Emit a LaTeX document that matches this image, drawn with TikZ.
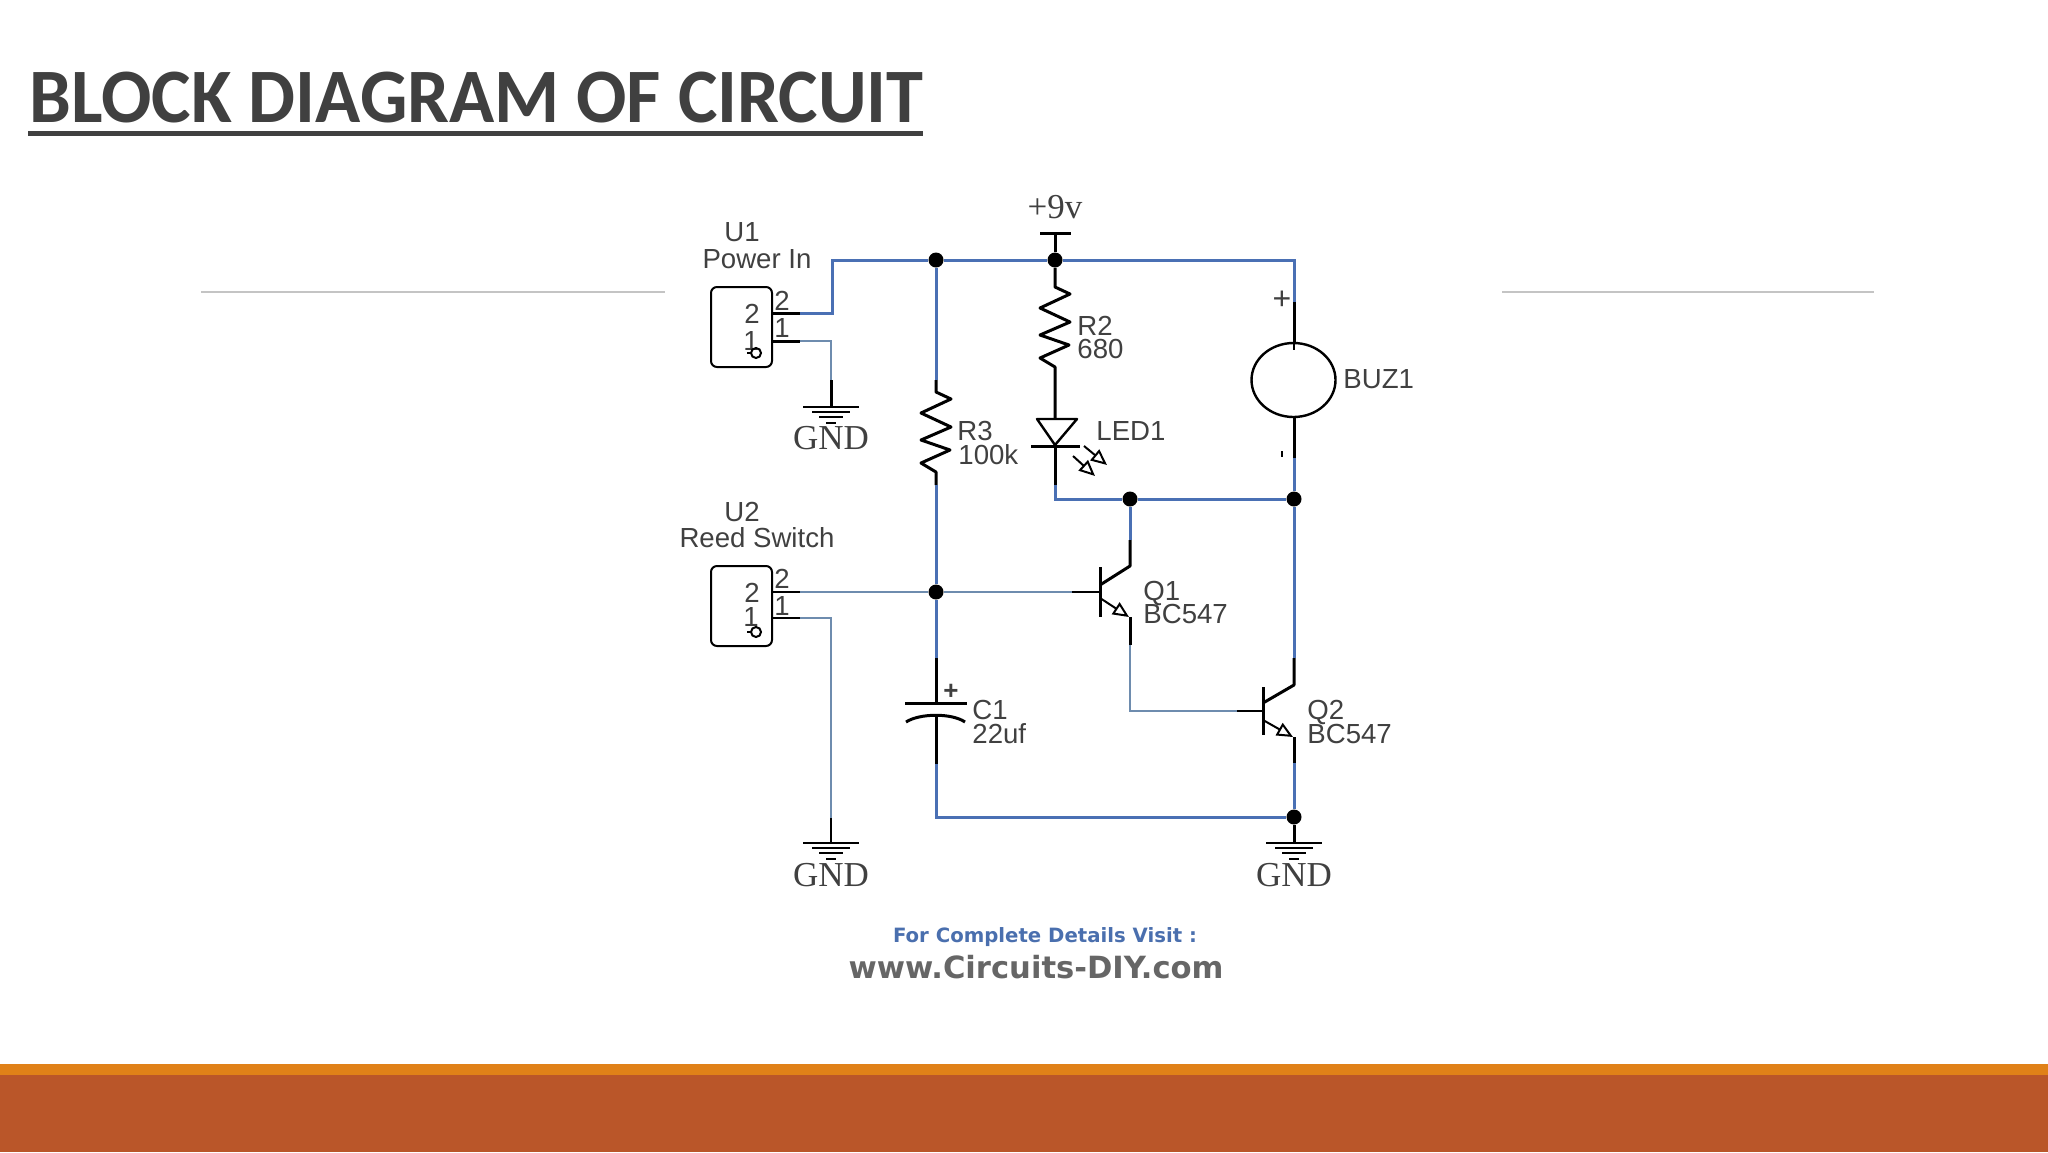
\documentclass[tikz,border=0pt]{standalone}
\usepackage{fontspec}
\setmainfont{Liberation Sans}
\newfontfamily\serifcirc{Liberation Serif}
\newfontfamily\titlefont[FakeStretch=.968]{Carlito}
\newfontfamily\footfont{DejaVu Sans}
\usetikzlibrary{arrows.meta, shapes.geometric}

\definecolor{wireblue}{HTML}{4A70B4}
\definecolor{wirepale}{HTML}{6E8CAE}
\definecolor{inkgrey}{HTML}{404040}
\definecolor{bandorange}{HTML}{E08118}
\definecolor{bandrust}{HTML}{BA5629}
\definecolor{ruleline}{HTML}{C4C4C4}
\definecolor{footblue}{HTML}{4A6FAE}
\definecolor{footgrey}{HTML}{666666}

\tikzset{
 wire/.style={draw=wireblue, line width=1.5pt},
 palewire/.style={draw=wirepale, line width=1pt},
 lead/.style={draw=black, line width=1.5pt},
 thinlead/.style={draw=black, line width=1pt},
 dot/.style={circle, fill=black, inner sep=0pt, minimum size=7.5pt},
 lbl/.style={inner sep=0pt, text=inkgrey, font=\fontsize{13.8}{13.8}\selectfont, text height=8.5pt, text depth=0pt},
 gndlbl/.style={inner sep=0pt, text=inkgrey, font=\serifcirc\fontsize{17.5}{17.5}\selectfont},
 openhead/.style={-{Triangle[open, length=8pt, width=7pt, line width=1pt]}},
}

\begin{document}
\begin{tikzpicture}[x=.5pt, y=-.5pt]
%\draw[help lines] (0,0) grid[step=100] (2048,1152);
\useasboundingbox (0,0) rectangle (2048,1152);

 % title and slide decoration
 \node[anchor=base west, inner sep=0pt, text=inkgrey, font=\titlefont\bfseries\fontsize{38.5}{38.5}\selectfont] (title) at (29,122) {BLOCK DIAGRAM OF CIRCUIT};
 \fill[inkgrey] (28,131) rectangle (923,136);
 \draw[ruleline, line width=.8pt] (201,292) -- (665,292);
 \draw[ruleline, line width=.8pt] (1502,292) -- (1874,292);
 \fill[bandorange] (0,1064) rectangle (2048,1076);
 \fill[bandrust] (0,1075) rectangle (2048,1152);

 % junctions
 \node[dot] (jtopa) at (936,260) {};
 \node[dot] (jtopb) at (1055,260) {};
 \node[dot] (jbase) at (936,592) {};
 \node[dot] (jleda) at (1130,499) {};
 \node[dot] (jledb) at (1294,499) {};
 \node[dot] (jgnd) at (1294,817) {};
 \draw[wire] (jtopa) -- (jtopb);

 % U1
 \node[draw=black, line width=1pt, rounded corners=3pt, minimum width=30.5pt, minimum height=40pt, inner sep=0pt] (uone) at (741.5,327) {};
 \node[lbl, anchor=center] (uonea) at (742,233) {U1};
 \node[lbl, anchor=center] (uoneb) at (757,260) {Power In};
 \node[lbl, anchor=center] (uonec) at (752,315) {2};
 \node[lbl, anchor=center] (uoned) at (751,342) {1};
 \node[lbl, anchor=center] (uonee) at (782,302) {2};
 \node[lbl, anchor=center] (uonef) at (782,329) {1};
 \draw[thinlead] (747,353) -- (752,353);
 \draw[thinlead] (756,353) circle[radius=5];
 \coordinate (uonepb) at (772,313);
 \coordinate (uonepa) at (772,341);
 \coordinate (uonelb) at (800,313);
 \coordinate (uonela) at (800,341);
 \coordinate (uonegnd) at (831,407);
 \coordinate (uonegw) at (831,380);
 \draw[lead] (uonepb) -- (uonelb);
 \draw[lead] (uonepa) -- (uonela);
 \draw[wire] (uonelb) -| (832,260) -- (jtopa);
 \draw[palewire] (uonela) -| (uonegw);
 \draw[lead] (uonegw) -- (uonegnd);

 % U2
 \node[draw=black, line width=1pt, rounded corners=3pt, minimum width=30.5pt, minimum height=40pt, inner sep=0pt] (utwo) at (741.5,606) {};
 \node[lbl, anchor=center] (utwoa) at (742,513) {U2};
 \node[lbl, anchor=center] (utwob) at (757,539) {Reed Switch};
 \node[lbl, anchor=center] (utwoc) at (752,594) {2};
 \node[lbl, anchor=center] (utwod) at (751,618) {1};
 \node[lbl, anchor=center] (utwoe) at (782,580) {2};
 \node[lbl, anchor=center] (utwof) at (782,607) {1};
 \draw[thinlead] (747,632) -- (752,632);
 \draw[thinlead] (756,632) circle[radius=5];
 \coordinate (utwopb) at (772,592);
 \coordinate (utwopa) at (772,618);
 \coordinate (utwolb) at (800,592);
 \coordinate (utwola) at (800,618);
 \coordinate (utwogw) at (831,818);
 \coordinate (utwognd) at (831,843);
 \draw[thinlead] (utwopb) -- (utwolb);
 \draw[thinlead] (utwopa) -- (utwola);
 \draw[palewire] (utwolb) -- (jbase);
 \draw[palewire] (utwola) -| (utwogw);
 \draw[thinlead] (utwogw) -- (utwognd);

 % grounds
 \begin{scope}[shift={(831,407)}]
 \draw[thinlead] (-28,0) -- (28,0);
 \draw[thinlead] (-19,5) -- (19,5);
 \draw[thinlead] (-12,10) -- (12,10);
 \draw[thinlead] (-5,16) -- (5,16);
 \end{scope}
 \begin{scope}[shift={(831,843)}]
 \draw[thinlead] (-28,0) -- (28,0);
 \draw[thinlead] (-19,5) -- (19,5);
 \draw[thinlead] (-12,10) -- (12,10);
 \draw[thinlead] (-5,16) -- (5,16);
 \end{scope}
 \begin{scope}[shift={(1294,843)}]
 \draw[thinlead] (-28,0) -- (28,0);
 \draw[thinlead] (-19,5) -- (19,5);
 \draw[thinlead] (-12,10) -- (12,10);
 \draw[thinlead] (-5,16) -- (5,16);
 \end{scope}
 \node[gndlbl] (gnda) at (831,438) {GND};
 \node[gndlbl] (gndb) at (831,875) {GND};
 \node[gndlbl] (gndc) at (1294,875) {GND};

 % +9v
 \node[gndlbl] (vcc) at (1055,207) {+9v};
 \coordinate (vcctop) at (1055,233);
 \draw[lead] (1040,233) -- (1071,233);
 \draw[lead] (vcctop) -- (jtopb);

 % R3
 \coordinate (rthreea) at (936,380);
 \coordinate (rthreeb) at (936,485);
 \draw[wire] (jtopa) -- (rthreea);
 \draw[lead, line join=round] (rthreea) -- (936,392) -- (951,399) -- (921,413) -- (951,427) -- (921,440) -- (950,450) -- (921,463) -- (936,472) -- (rthreeb);
 \node[lbl, anchor=west] (rthreel) at (957,432) {R3};
 \node[lbl, anchor=west] (rthreev) at (958,456) {100k};
 \draw[wire] (rthreeb) -- (jbase);

 % R2 and LED1
 \draw[lead, line join=round] (jtopb) -- (1055,287) -- (1070,294) -- (1040,308) -- (1070,322) -- (1040,335) -- (1069,345) -- (1040,358) -- (1055,367) -- (1055,419);
 \node[lbl, anchor=west] (rtwol) at (1077,327) {R2};
 \node[lbl, anchor=west] (rtwov) at (1077,350) {680};
 \draw[thinlead, line join=round, line width=1.2pt] (1037,419) -- (1077,419) -- (1055,445) -- cycle;
 \draw[lead] (1031,446) -- (1080,446);
 \coordinate (ledend) at (1055,485);
 \draw[lead] (1055,445) -- (ledend);
 \draw[thinlead, openhead] (1084,446) -- (1107,465);
 \draw[thinlead, openhead] (1073,456) -- (1095,476);
 \node[lbl, anchor=west] (ledl) at (1096,432) {LED1};
 \draw[wire] (ledend) |- (jleda);
 \draw[wire] (jleda) -- (jledb);

 % BUZ1
 \node[draw=black, line width=1.2pt, ellipse, minimum width=42pt, minimum height=37pt, inner sep=0pt] (buz) at (1293.5,380) {};
 \coordinate (buzup) at (1294,302);
 \coordinate (buzdn) at (1294,458);
 \draw[wire] (jtopb) -| (buzup);
 \draw[lead] (buzup) -- (1294,343);
 \draw[thinlead] (1294,343) -- (1294,350);
 \draw[lead] (1294,417) -- (buzdn);
 \draw[wire] (buzdn) -- (jledb);
 \node[lbl, anchor=center, font=\fontsize{16}{16}\selectfont] (buzplus) at (1282,301) {+};
 \draw[thinlead] (1282,451) -- (1282,457);
 \node[lbl, anchor=west] (buzl) at (1343,380) {BUZ1};

 % C1
 \coordinate (capup) at (936,658);
 \coordinate (capdn) at (936,764);
 \draw[wire] (jbase) -- (capup);
 \draw[lead] (capup) -- (936,703);
 \draw[lead] (905,703) -- (967,703);
 \draw[lead] (906,722) .. controls (920,713) and (952,713) .. (965,722);
 \draw[lead] (936,715) -- (capdn);
 \node[lbl, anchor=center, font=\bfseries\fontsize{13}{13}\selectfont] (capplus) at (951,691) {+};
 \node[lbl, anchor=west] (capl) at (972,711) {C1};
 \node[lbl, anchor=west] (capv) at (972,735) {22uf};
 \draw[wire] (capdn) |- (jgnd);

 % Q1
 \begin{scope}[shift={(1100,592)}]
 \draw[lead] (0,-25) -- (0,25);
 \coordinate (qonee) at (30,53);
 \coordinate (qonec) at (30,-52);
 \coordinate (qoneb) at (-28,0);
 \draw[thinlead] (qoneb) -- (0,0);
 \draw[lead, line join=round] (0,-7) -- (30,-26) -- (qonec);
 \draw[thinlead, openhead] (0,6) -- (29,25);
 \draw[lead] (30,25) -- (qonee);
 \end{scope}
 \node[lbl, anchor=west] (qonel) at (1143,592) {Q1};
 \node[lbl, anchor=west] (qonev) at (1143,615) {BC547};

 % Q2
 \begin{scope}[shift={(1263,711)}]
 \draw[lead] (0,-24) -- (0,24);
 \coordinate (qtwoe) at (31,52);
 \coordinate (qtwoc) at (31,-53);
 \coordinate (qtwob) at (-26,0);
 \draw[thinlead] (qtwob) -- (0,0);
 \draw[lead, line join=round] (0,-8) -- (31,-26) -- (qtwoc);
 \draw[thinlead, openhead] (0,9) -- (30,26);
 \draw[lead] (31,26) -- (qtwoe);
 \end{scope}
 \node[lbl, anchor=west] (qtwol) at (1307,711) {Q2};
 \node[lbl, anchor=west] (qtwov) at (1307,735) {BC547};

 % remaining wires
 \draw[palewire] (jbase) -- (qoneb);
 \draw[wire] (qonec) -- (jleda);
 \draw[wire] (qtwoc) -- (jledb);
 \draw[palewire] (qonee) |- (qtwob);
 \draw[wire] (qtwoe) -- (jgnd);
 \draw[lead] (jgnd) -- (1294,843);

 % footer
 \node[inner sep=0pt, text=footblue, font=\footfont\bfseries\fontsize{9.85}{10}\selectfont] (visit) at (1045,937) {For Complete Details Visit :};
 \node[inner sep=0pt, text=footgrey, font=\footfont\bfseries\fontsize{15.3}{15.3}\selectfont] (site) at (1036,967) {www.Circuits-DIY.com};
\end{tikzpicture}
\end{document}
